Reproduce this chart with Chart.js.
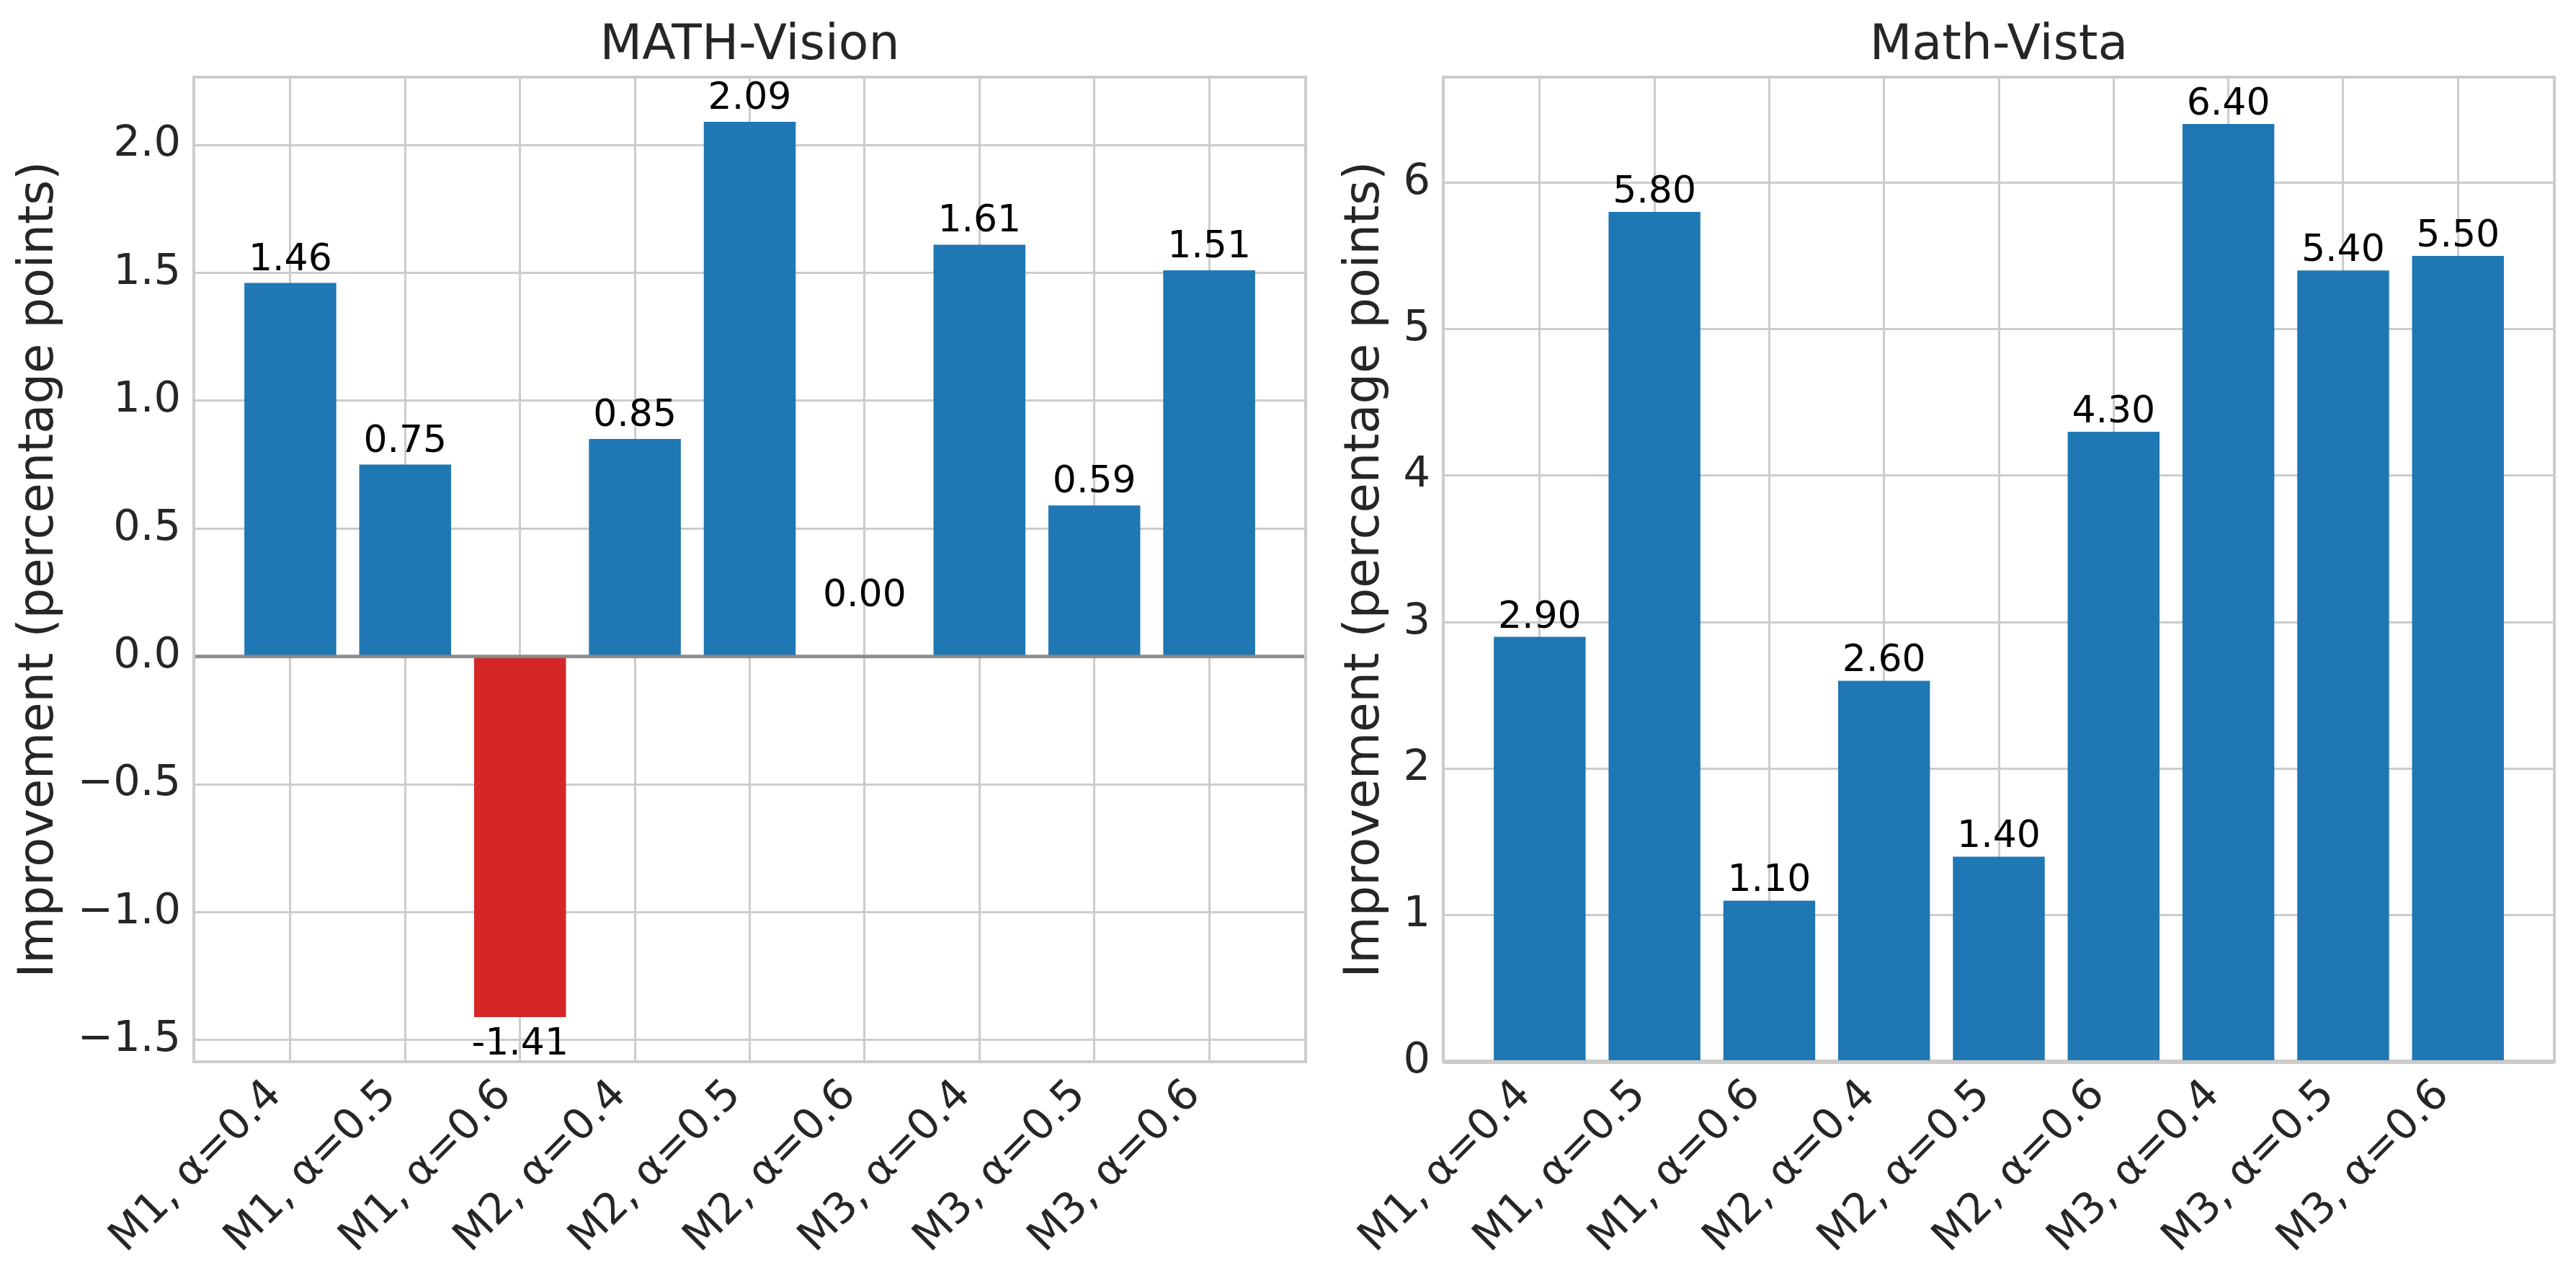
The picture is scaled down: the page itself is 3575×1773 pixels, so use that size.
<!DOCTYPE html>
<html>
<head>
<meta charset="utf-8">
<script src="https://cdn.jsdelivr.net/npm/chart.js@4.4.0/dist/chart.umd.min.js"></script>
<style>
html, body { margin: 0; padding: 0; background: #fff; }
#wrap { position: relative; width: 3575px; height: 1773px; }
canvas { position: absolute; top: 0; }
</style>
</head>
<body>
<div id="wrap">
  <canvas id="vision" width="1840" height="1773" style="left:0px"></canvas>
  <canvas id="vista" width="1735" height="1773" style="left:1840px"></canvas>
</div>
<script>
var categories = ['M1, α=0.4', 'M1, α=0.5', 'M1, α=0.6',
                  'M2, α=0.4', 'M2, α=0.5', 'M2, α=0.6',
                  'M3, α=0.4', 'M3, α=0.5', 'M3, α=0.6'];
var visionValues = [1.46, 0.75, -1.41, 0.85, 2.09, 0.00, 1.61, 0.59, 1.51];
var vistaValues  = [2.90, 5.80, 1.10, 2.60, 1.40, 4.30, 6.40, 5.40, 5.50];
var visionTicks = [-1.5, -1.0, -0.5, 0.0, 0.5, 1.0, 1.5, 2.0];
var vistaTicks  = [0, 1, 2, 3, 4, 5, 6];

var FONT = '"DejaVu Sans", sans-serif';
var DARK = '#262626';
var GRID = '#cccccc';

Chart.defaults.font.family = FONT;

// title over the plot area, zero line, frame and value labels
var barLabels = {
  id: 'barLabels',
  afterDatasetsDraw: function(chart, args, opts) {
    var ctx = chart.ctx, a = chart.chartArea;
    var y0 = chart.scales.y.getPixelForValue(0);
    var meta = chart.getDatasetMeta(0);
    var data = chart.data.datasets[0].data;
    ctx.save();
    ctx.strokeStyle = 'rgba(128,128,128,0.85)';
    ctx.lineWidth = 5;
    ctx.beginPath();
    ctx.moveTo(a.left, y0);
    ctx.lineTo(a.right, y0);
    ctx.stroke();

    ctx.strokeStyle = GRID;
    ctx.lineWidth = 4;
    ctx.strokeRect(a.left, a.top, a.right - a.left, a.bottom - a.top);

    ctx.fillStyle = DARK;
    ctx.font = '68px ' + FONT;
    ctx.textAlign = 'center';
    ctx.textBaseline = 'alphabetic';
    ctx.fillText(opts.title, (a.left + a.right) / 2, 82);

    ctx.fillStyle = '#000';
    ctx.font = '52px ' + FONT;
    meta.data.forEach(function(bar, i) {
      var v = data[i].y;
      var ty;
      if (v > 0) ty = bar.y - opts.gap;
      else if (v < 0) ty = bar.y + opts.below;
      else ty = bar.y - opts.zeroGap;
      ctx.fillText(v.toFixed(2), bar.x, ty);
    });
    ctx.restore();
  }
};

function makeChart(id, title, values, ticks, fmt, yWidth, rightPad, gap) {
  var lo = Math.min(0, Math.min.apply(null, values));
  var hi = Math.max.apply(null, values);
  var span = hi - lo;
  var ymin = lo < 0 ? lo - 0.05 * span : 0;
  var ymax = hi + 0.05 * span;
  var xmin = -0.4 - 0.05 * (values.length - 1 + 0.8);
  var xmax = values.length - 1 + 0.4 + 0.05 * (values.length - 1 + 0.8);

  return new Chart(document.getElementById(id), {
    type: 'bar',
    data: {
      datasets: [{
        data: values.map(function(v, i) { return {x: i, y: v}; }),
        backgroundColor: values.map(function(v) { return v < 0 ? '#d62728' : '#1f77b4'; }),
        borderWidth: 0,
        barPercentage: 0.8,
        categoryPercentage: 1.0
      }]
    },
    options: {
      responsive: false,
      animation: false,
      devicePixelRatio: 1,
      layout: {padding: {left: 0, right: rightPad, top: 107, bottom: 0}},
      plugins: {
        legend: {display: false},
        tooltip: {enabled: false},
        title: {display: false},
        barLabels: {title: title, gap: gap, below: 52, zeroGap: 70}
      },
      scales: {
        x: {
          type: 'linear',
          offset: false,
          min: xmin,
          max: xmax,
          afterBuildTicks: function(s) {
            s.ticks = categories.map(function(c, i) { return {value: i}; });
          },
          afterFit: function(s) { s.height = 300; },
          ticks: {
            autoSkip: false,
            minRotation: 45,
            maxRotation: 45,
            padding: 12,
            labelOffset: -21,
            color: DARK,
            font: {size: 59},
            callback: function(v) { return categories[v]; }
          },
          grid: {color: GRID, lineWidth: 3, drawTicks: false, offset: false},
          border: {display: false}
        },
        y: {
          type: 'linear',
          min: ymin,
          max: ymax,
          afterBuildTicks: function(s) {
            s.ticks = ticks.map(function(v) { return {value: v}; });
          },
          afterFit: function(s) { s.width = yWidth; },
          ticks: {
            padding: 18,
            color: DARK,
            font: {size: 59},
            callback: fmt
          },
          grid: {color: GRID, lineWidth: 3, drawTicks: false},
          border: {display: false},
          title: {
            display: true,
            text: 'Improvement (percentage points)',
            color: DARK,
            font: {size: 67},
            padding: {top: 15, bottom: 0}
          }
        }
      }
    },
    plugins: [barLabels]
  });
}

makeChart('vision', 'MATH-Vision', visionValues, visionTicks,
  function(v) { return v.toFixed(1).replace('-', '\u2212'); }, 269, 28, 18);
makeChart('vista', 'Math-Vista', vistaValues, vistaTicks,
  function(v) { return String(v); }, 163, 30, 13);
</script>
</body>
</html>
